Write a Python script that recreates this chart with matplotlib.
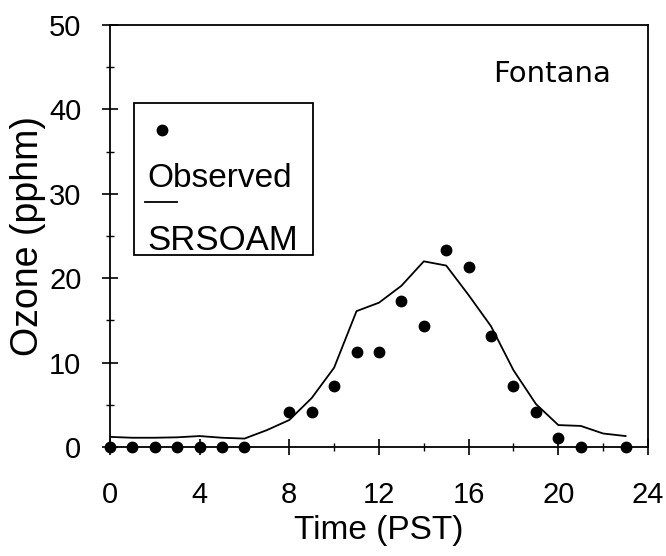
import matplotlib
matplotlib.use("Agg")
import matplotlib.pyplot as plt
from matplotlib.patches import Rectangle
from matplotlib.lines import Line2D
import numpy as np

# observed ozone (pphm), hours without a reading are left out
obs_hours = [0, 1, 2, 3, 4, 5, 6, 8, 9, 10, 11, 12, 13, 14, 15, 16, 17, 18, 19, 20, 21, 23]
obs_ozone = [0, 0, 0, 0, 0, 0, 0, 4.1, 4.2, 7.2, 11.2, 11.3, 17.3, 14.3, 23.3, 21.3,
             13.2, 7.2, 4.1, 1.1, 0, 0]

# SRSOAM model
model_hours = list(range(24))
model_ozone = [1.2, 1.1, 1.1, 1.15, 1.3, 1.1, 1.0, 2.0, 3.2, 5.8, 9.4, 16.1, 17.1, 19.1,
               22.0, 21.5, 18.0, 14.3, 9.1, 5.1, 2.6, 2.5, 1.6, 1.3]

x_ticks = [0, 4, 8, 12, 16, 20, 24]
y_ticks = [0, 10, 20, 30, 40, 50]

plt.rcParams["font.family"] = ["Liberation Sans", "DejaVu Sans"]

fig = plt.figure(figsize=(6.66, 5.56), dpi=100)
ax = fig.add_axes([0.165, 0.196, 0.808, 0.759])

ax.plot(model_hours, model_ozone, color="black", lw=1.3)
ax.plot(obs_hours, obs_ozone, "o", color="black", ms=7.5, clip_on=False, zorder=5)

ax.set_xlim(0, 24)
ax.set_ylim(0, 50)
ax.set_xticks(x_ticks)
ax.set_yticks(y_ticks)
ax.set_xticks(np.arange(0, 25, 2), minor=True)
ax.set_yticks(np.arange(0, 51, 5), minor=True)
ax.tick_params(which="major", direction="inout", length=11, width=1.2, labelsize=21)
ax.tick_params(axis="x", which="major", pad=19)
ax.tick_params(axis="y", which="major", pad=15)
ax.tick_params(which="minor", direction="inout", length=6, width=1.0)
for s in ax.spines.values():
    s.set_linewidth(1.3)

ax.set_xlabel("Time (PST)", fontsize=24, labelpad=4)
ax.set_ylabel("Ozone (pphm)", fontsize=27, labelpad=2)

# legend box drawn by hand (marker above label like the original)
ax.add_patch(Rectangle((0.045, 0.455), 0.332, 0.36, transform=ax.transAxes,
                       fill=False, lw=1.3, color="black"))
ax.add_line(Line2D([0.097], [0.751], marker="o", ms=7.5, color="black",
                   transform=ax.transAxes))
ax.text(0.069, 0.616, "Observed", transform=ax.transAxes, fontsize=24, va="baseline")
ax.add_line(Line2D([0.065, 0.125], [0.581, 0.581], color="black", lw=1.3,
                   transform=ax.transAxes))
ax.text(0.069, 0.467, "SRSOAM", transform=ax.transAxes, fontsize=25, va="baseline")

ax.text(0.712, 0.865, "Fontana", transform=ax.transAxes, fontsize=21, va="baseline",
        family="DejaVu Sans")

fig.savefig("out.png", dpi=100)
